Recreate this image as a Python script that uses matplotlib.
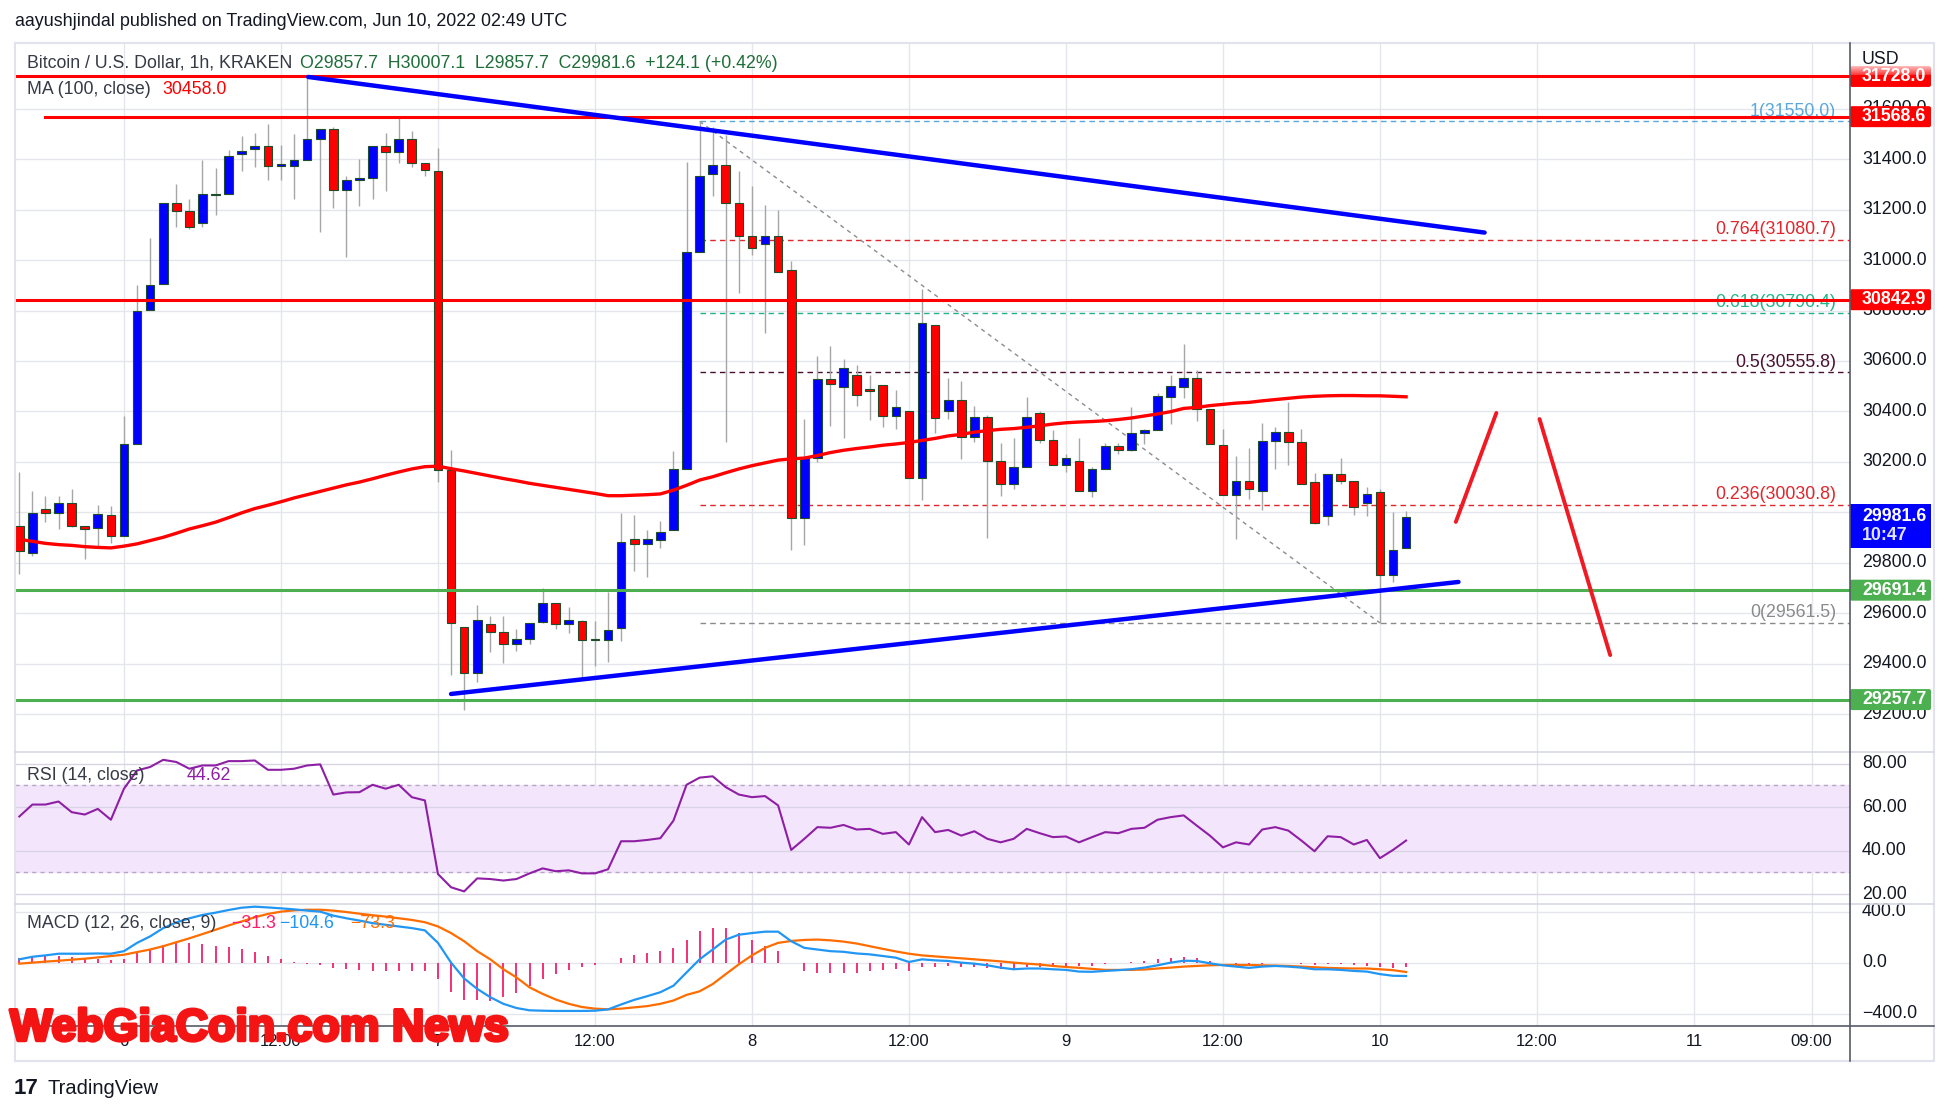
import numpy as np
import pandas as pd
import matplotlib
matplotlib.use("Agg")
import matplotlib.pyplot as plt
import matplotlib.patheffects as pe
from matplotlib.patches import Rectangle, FancyBboxPatch
from matplotlib import font_manager as fm

# Constants
W, H, DPI = 1950, 1115, 100
OUT = "out.png"

RED = "#ff0000"
BLUE = "#0000ff"
GREEN = "#4caf50"
GRID = "#e4e6ec"
TXT = "#131722"

# ---- hourly candles, BTC/USD Kraken, first bar 2022-06-05 16:00 UTC ----
start = "2022-06-05 16:00"

opens = [29946.6, 29839.7, 30014.6, 29998.4, 30037.3, 29946.6, 29938.5, 29990.3, 29906.1, 30272.2,
         30800.4, 30905.7, 31224.8, 31194.0, 31145.3, 31263.7, 31260.5, 31419.2, 31440.3, 31451.6,
         31372.2, 31372.2, 31398.2, 31479.2, 31521.3, 31276.7, 31318.8, 31323.6, 31451.6, 31427.3,
         31479.2, 31383.6, 31351.2, 30168.5, 29544.8, 29363.5, 29557.8, 29525.4, 29476.8, 29496.3,
         29564.3, 29642.0, 29557.8, 29569.1, 29496.3, 29493.0, 29541.6, 29893.1, 29873.7, 29889.9,
         29928.8, 30171.7, 31030.4, 31343.1, 31375.5, 31224.8, 31096.8, 31062.8, 31096.8, 30959.1,
         29977.4, 30215.5, 30529.8, 30497.4, 30546.0, 30487.7, 30503.9, 30382.4, 30403.5, 30136.1,
         30743.6, 30400.2, 30447.2, 30298.2, 30379.2, 30204.2, 30111.8, 30179.8, 30395.4, 30286.8,
         30189.6, 30204.2, 30084.3, 30171.7, 30264.1, 30246.3, 30314.4, 30325.7, 30456.9, 30497.4,
         30533.0, 30408.3, 30265.7, 30068.1, 30124.8, 30084.3, 30282.0, 30319.2, 30278.7, 30119.9,
         29985.5, 30152.3, 30124.8, 30035.7, 30079.5, 29750.6, 29857.7]
highs = [30160.4, 30082.7, 30066.5, 30063.3, 30092.4, 29946.6, 30030.8, 30026.0, 30382.4, 30900.8,
         31088.7, 31224.8, 31302.6, 31241.0, 31396.5, 31364.1, 31437.1, 31492.1, 31505.1, 31540.0,
         31456.5, 31500.2, 31728.0, 31521.3, 31529.4, 31335.0, 31399.8, 31451.6, 31505.1, 31561.8,
         31511.6, 31383.6, 31445.1, 30246.3, 29544.8, 29630.7, 29590.2, 29590.2, 29536.8, 29561.0,
         29698.7, 29642.0, 29625.8, 29574.0, 29569.1, 29682.5, 29998.4, 29990.3, 29930.4, 29966.1,
         30241.4, 31388.4, 31550.0, 31529.4, 31497.0, 31351.2, 31294.5, 31216.7, 31200.5, 30998.0,
         30371.1, 30618.9, 30657.8, 30606.0, 30584.9, 30546.0, 30503.9, 30484.4, 30403.5, 30886.2,
         30743.6, 30533.0, 30520.1, 30422.9, 30384.0, 30273.9, 30296.5, 30455.3, 30403.5, 30325.7,
         30231.7, 30296.5, 30179.8, 30273.9, 30273.9, 30416.4, 30330.6, 30471.5, 30546.0, 30665.9,
         30565.4, 30408.3, 30329.0, 30225.2, 30254.4, 30354.9, 30338.7, 30435.8, 30330.6, 30155.5,
         30152.3, 30217.1, 30124.8, 30098.9, 30092.4, 30003.3, 30007.1]
lows = [29755.4, 29828.3, 29962.8, 29933.6, 29941.8, 29815.4, 29857.5, 29878.6, 29906.1, 30272.2,
        30800.4, 30905.7, 31132.5, 31124.4, 31132.5, 31177.9, 31260.5, 31354.4, 31370.6, 31318.8,
        31318.8, 31242.6, 31398.2, 31113.0, 31205.4, 31014.2, 31213.5, 31242.6, 31275.0, 31386.8,
        31370.6, 31335.0, 30119.9, 29353.8, 29215.0, 29326.3, 29447.7, 29402.3, 29450.9, 29476.8,
        29561.0, 29536.8, 29520.6, 29342.4, 29391.0, 29407.2, 29488.2, 29768.4, 29742.5, 29857.5,
        29928.8, 30171.7, 31030.4, 31254.0, 30277.1, 30870.0, 31019.1, 30711.2, 30954.3, 29852.6,
        29868.8, 30200.9, 30341.9, 30293.3, 30419.6, 30367.9, 30338.7, 30330.6, 30136.1, 30047.0,
        30314.4, 30371.1, 30212.3, 30277.1, 29898.0, 30066.5, 30090.8, 30179.8, 30273.9, 30189.6,
        30160.4, 30084.3, 30060.0, 30171.7, 30231.7, 30241.4, 30269.0, 30325.7, 30350.0, 30452.0,
        30361.4, 30270.6, 30068.1, 29893.1, 30051.9, 30009.7, 30171.7, 30187.9, 30111.8, 29953.1,
        29949.9, 30111.8, 29988.7, 29985.5, 29561.5, 29723.0, 29857.7]
closes = [29847.8, 29998.4, 29998.4, 30037.3, 29946.6, 29932.0, 29993.6, 29906.1, 30272.2, 30797.1,
          30900.8, 31224.8, 31194.0, 31132.5, 31263.7, 31258.8, 31411.1, 31432.2, 31451.6, 31372.2,
          31380.3, 31398.2, 31479.2, 31521.3, 31276.7, 31318.8, 31326.9, 31451.6, 31427.3, 31479.2,
          31386.8, 31356.0, 30168.5, 29561.0, 29363.5, 29572.3, 29525.4, 29476.8, 29496.3, 29561.0,
          29642.0, 29557.8, 29572.3, 29493.0, 29493.0, 29533.5, 29883.4, 29873.7, 29893.1, 29922.3,
          30171.7, 31030.4, 31331.7, 31375.5, 31224.8, 31096.8, 31048.2, 31096.8, 30954.3, 29977.4,
          30220.4, 30529.8, 30508.7, 30573.5, 30465.0, 30481.2, 30382.4, 30416.4, 30136.1, 30751.8,
          30374.3, 30443.9, 30298.2, 30379.2, 30204.2, 30111.8, 30179.8, 30379.2, 30286.8, 30189.6,
          30215.5, 30084.3, 30171.7, 30264.1, 30246.3, 30314.4, 30325.7, 30460.0, 30500.6, 30533.0,
          30408.3, 30270.6, 30068.1, 30124.8, 30092.4, 30282.0, 30319.2, 30278.7, 30111.8, 29958.0,
          30152.3, 30124.8, 30019.5, 30071.4, 29750.6, 29852.6, 29981.6]

# MA(100, close) as shown on the chart
ma100 = [29893, 29885, 29877, 29872, 29869, 29864, 29861, 29859, 29866, 29875,
         29888, 29901, 29917, 29934, 29947, 29961, 29979, 29998, 30015, 30028,
         30042, 30057, 30070, 30083, 30096, 30109, 30120, 30133, 30147, 30160,
         30172, 30181, 30183, 30173, 30164, 30154, 30144, 30134, 30125, 30115,
         30107, 30099, 30091, 30083, 30075, 30066, 30066, 30068, 30070, 30073,
         30088, 30107, 30128, 30141, 30157, 30172, 30185, 30196, 30207, 30212,
         30215, 30225, 30237, 30246, 30253, 30259, 30266, 30271, 30277, 30285,
         30293, 30303, 30309, 30318, 30324, 30329, 30332, 30337, 30343, 30350,
         30355, 30358, 30360, 30363, 30368, 30374, 30382, 30390, 30399, 30412,
         30416, 30423, 30428, 30433, 30436, 30442, 30447, 30452, 30457, 30460,
         30462, 30463, 30463, 30462, 30462, 30460, 30458]

rsi = [55.7, 61.2, 61.2, 62.6, 57.7, 56.6, 59.2, 54.2, 68.5, 76.9,
       78.5, 81.8, 80.8, 77.7, 79.2, 79.2, 81.2, 81.2, 81.5, 77.2,
       77.2, 77.7, 79.2, 79.7, 65.8, 66.8, 66.9, 70.3, 68.5, 70.3,
       64.6, 63.1, 29.2, 23.1, 21.2, 27.2, 26.9, 26.2, 26.9, 29.5,
       31.8, 30.5, 30.9, 29.5, 29.5, 31.4, 44.3, 44.3, 44.9, 45.7,
       53.8, 70.3, 73.6, 74.2, 69.2, 65.8, 64.6, 65.1, 60.8, 40.3,
       45.4, 50.8, 50.5, 51.8, 49.7, 50.0, 47.7, 48.5, 42.8, 55.4,
       48.5, 49.5, 46.9, 48.9, 45.4, 43.8, 45.4, 50.0, 48.0, 46.2,
       46.5, 43.8, 46.2, 48.5, 48.0, 50.0, 50.5, 54.2, 55.4, 56.2,
       51.5, 46.9, 41.5, 43.8, 42.8, 49.7, 50.8, 49.2, 44.6, 39.7,
       46.6, 46.2, 42.8, 44.9, 36.5, 40.3, 44.62]

macd = [26, 46, 57, 70, 70, 70, 72, 70, 90, 155,
        206, 271, 315, 348, 374, 392, 413, 431, 439, 433,
        426, 418, 408, 400, 369, 348, 330, 310, 297, 284,
        271, 253, 155, 0, -124, -206, -271, -323, -356, -374,
        -377, -379, -379, -379, -377, -367, -328, -292, -263, -232,
        -181, -77, 26, 103, 181, 219, 232, 243, 243, 168,
        116, 103, 90, 85, 72, 65, 52, 39, 5, 26,
        18, 13, 0, -8, -21, -39, -52, -46, -46, -52,
        -57, -70, -72, -65, -59, -52, -39, -21, 0, 15,
        13, -5, -21, -31, -41, -31, -26, -31, -39, -52,
        -52, -57, -65, -70, -90, -103, -104.6]
signal = [-8, 0, 8, 15, 23, 31, 41, 52, 62, 83,
          103, 129, 160, 191, 224, 258, 292, 323, 356, 382,
          400, 410, 415, 415, 408, 397, 384, 372, 361, 348,
          335, 317, 284, 232, 168, 90, 26, -52, -116, -194,
          -245, -289, -323, -348, -361, -366, -361, -351, -341, -323,
          -297, -253, -225, -168, -90, -13, 57, 116, 155, 170,
          178, 181, 175, 165, 150, 129, 108, 88, 70, 57,
          49, 41, 34, 26, 18, 10, 0, -8, -15, -26,
          -34, -41, -49, -57, -57, -57, -54, -46, -39, -31,
          -26, -21, -18, -18, -18, -21, -23, -26, -31, -36,
          -41, -44, -46, -46, -52, -59, -73.3]

# horizontal levels drawn on the chart
red_levels = [31728.0, 31568.6, 30842.9]
green_levels = [29691.4, 29257.7]

# fibonacci retracement
fib_high, fib_low = 31550.0, 29561.5
fib_start, fib_end = "2022-06-07 20:00", "2022-06-10 00:00"
fib_ratios = [1, 0.764, 0.618, 0.5, 0.236, 0]
fib_colors = ["#5aa7dc", "#e0262b", "#22b38a", "#4a1030", "#e0262b", "#8a8a8a"]

# drawings: (time, price) pairs
trend_down = [("2022-06-06 14:05", 31726), ("2022-06-10 08:00", 31109)]
trend_up = [("2022-06-07 01:00", 29280), ("2022-06-10 06:00", 29724)]
arrow_up = [("2022-06-10 05:48", 29962), ("2022-06-10 08:54", 30394)]
arrow_down = [("2022-06-10 12:12", 30370), ("2022-06-10 17:36", 29434)]

time_ticks = ["2022-06-06 00:00", "2022-06-06 12:00", "2022-06-07 00:00", "2022-06-07 12:00",
              "2022-06-08 00:00", "2022-06-08 12:00", "2022-06-09 00:00", "2022-06-09 12:00",
              "2022-06-10 00:00", "2022-06-10 12:00", "2022-06-11 00:00", "2022-06-11 09:00"]
time_labels = ["6", "12:00", "7", "12:00", "8", "12:00", "9", "12:00", "10", "12:00", "11", "09:00"]

price_ticks = [29200, 29400, 29600, 29800, 30000, 30200, 30400, 30600, 30800, 31000, 31200, 31400, 31600]
rsi_ticks = [80, 60, 40, 20]
macd_ticks = [400, 0, -400]

# ---- helpers ----
times = pd.date_range(start, periods=len(closes), freq="h")
x = np.arange(len(closes))


def tx(ts):
    return (pd.Timestamp(ts) - times[0]) / pd.Timedelta(hours=1)


def px_rect(x0, y0, x1, y1):
    return [x0 / W, 1 - y1 / H, (x1 - x0) / W, (y1 - y0) / H]


plt.rcParams["font.family"] = ["Liberation Sans", "DejaVu Sans"]
FS = 12.8

fig = plt.figure(figsize=(W / DPI, H / DPI), dpi=DPI)
fig.patch.set_facecolor("white")

L, R, AR = 15, 1850, 1934
P_T, P_B = 43, 752
R_T, R_B = 752, 904
M_T, M_B = 904, 1026
T_B = 1061

XLIM = (-0.33, 139.93)
PLIM = (29049.9, 31860.6)
RLIM = (15.4, 85.4)
MLIM = (-497, 460)

ax_p = fig.add_axes(px_rect(L, P_T, R, P_B))
ax_r = fig.add_axes(px_rect(L, R_T, R, R_B))
ax_m = fig.add_axes(px_rect(L, M_T, R, M_B))
ax_t = fig.add_axes(px_rect(L, M_B, R, T_B))
sc_p = fig.add_axes(px_rect(R, P_T, AR, P_B))
sc_r = fig.add_axes(px_rect(R, R_T, AR, R_B))
sc_m = fig.add_axes(px_rect(R, M_T, AR, M_B))

for a, yl in [(ax_p, PLIM), (ax_r, RLIM), (ax_m, MLIM), (ax_t, (0, 1))]:
    a.set_xlim(*XLIM)
    a.set_ylim(*yl)
    a.set_xticks([])
    a.set_yticks([])
    for s in a.spines.values():
        s.set_visible(False)
    if a is not ax_t:
        for t in time_ticks:
            a.axvline(tx(t), color=GRID, lw=1, zorder=0)

for a, yl in [(sc_p, PLIM), (sc_r, RLIM), (sc_m, MLIM)]:
    a.set_xlim(0, AR - R)
    a.set_ylim(*yl)
    a.axis("off")

for p in price_ticks:
    ax_p.axhline(p, color=GRID, lw=1, zorder=0)

# ---- price pane ----
o, hi, lo, c = map(np.array, (opens, highs, lows, closes))
up = c >= o
ax_p.vlines(x, lo, hi, color="#a6a6a6", lw=1, zorder=3)
ax_p.bar(x, np.maximum(np.abs(c - o), 3), bottom=np.minimum(o, c), width=0.66,
         color=np.where(up, BLUE, RED), edgecolor="#1f4d2a", linewidth=0.8, zorder=4)

ax_p.plot(x, ma100, color=RED, lw=2.4, zorder=5)

# fib levels
f0, f1 = tx(fib_start), tx(fib_end)
for r, col in zip(fib_ratios, fib_colors):
    lvl = fib_low + r * (fib_high - fib_low)
    ax_p.plot([f0, XLIM[1]], [lvl, lvl], color=col, lw=1, ls=(0, (4, 3)), zorder=2)
    lab = f"{r:g}({lvl:.1f})"
    ax_p.annotate(lab, xy=(0.9924, lvl), xycoords=ax_p.get_yaxis_transform(),
                  xytext=(0, 10), textcoords="offset pixels", ha="right", va="center",
                  fontsize=FS, color=col, zorder=2)
ax_p.plot([f0, f1], [fib_high, fib_low], color="#8c8c8c", lw=1, ls=(0, (3, 3)), zorder=2)

# horizontal support / resistance
ax_p.plot([XLIM[0], XLIM[1]], [red_levels[0]] * 2, color=RED, lw=2.2, zorder=6)
ax_p.plot([2.0, XLIM[1]], [red_levels[1]] * 2, color=RED, lw=2.2, zorder=6)
ax_p.axhline(red_levels[2], color=RED, lw=2.2, zorder=6)
for g in green_levels:
    ax_p.axhline(g, color=GREEN, lw=2.2, zorder=6)

# trend lines and projected path
for seg, col, lw in [(trend_down, BLUE, 3.2), (trend_up, BLUE, 3.2),
                     (arrow_up, "#f01a24", 2.8), (arrow_down, "#f01a24", 2.8)]:
    ax_p.plot([tx(seg[0][0]), tx(seg[1][0])], [seg[0][1], seg[1][1]],
              color=col, lw=lw, solid_capstyle="round", zorder=7)

# ---- RSI pane ----
ax_r.axhspan(30, 70, color="#f3e6fc", zorder=0)
for v in rsi_ticks:
    ax_r.axhline(v, color="#d9d3e3", lw=1, zorder=1)
for v in (70, 30):
    ax_r.axhline(v, color="#b7a6c2", lw=1, ls=(0, (3, 3)), zorder=1)
ax_r.plot(x, rsi, color="#8e1fa4", lw=1.5, zorder=3)

# ---- MACD pane ----
for v in macd_ticks:
    ax_m.axhline(v, color=GRID, lw=1, zorder=0)
hist = np.array(macd) - np.array(signal)
ax_m.vlines(x, 0, hist, color="#f5206c", lw=1.3, zorder=2)
ax_m.plot(x, signal, color="#ff6d00", lw=1.6, zorder=3)
ax_m.plot(x, macd, color="#2196f3", lw=1.6, zorder=4)

# ---- time axis ----
for t, lab in zip(time_ticks, time_labels):
    ax_t.text(tx(t), 0.55, lab, ha="center", va="center", fontsize=12, color=TXT)

# ---- price scale ----
for p in price_ticks:
    sc_p.text(12, p, f"{p:.1f}", va="center", fontsize=FS, color=TXT)

px_per = (P_B - P_T) / (PLIM[1] - PLIM[0])
bh = 21 / px_per


def tag(ax, y, label, col, h=bh):
    ax.add_patch(FancyBboxPatch((0, y - h / 2), 81, h, boxstyle="round,pad=0,rounding_size=2",
                                mutation_aspect=1 / px_per, fc=col, ec="none", zorder=5))
    ax.text(12, y, label, va="center", fontsize=FS, color="white", fontweight="bold", zorder=6)


tag(sc_p, red_levels[0], "31728.0", RED)
tag(sc_p, red_levels[1], "31568.6", RED)
tag(sc_p, red_levels[2], "30842.9", RED)
tag(sc_p, green_levels[0], "29691.4", GREEN)
tag(sc_p, green_levels[1], "29257.7", GREEN)
# last price + countdown
last = closes[-1]
top = last + 13 / px_per
sc_p.add_patch(Rectangle((0, top - 44 / px_per), 81, 44 / px_per, fc=BLUE, ec="none", zorder=5))
sc_p.text(12, last, f"{last:.1f}", va="center", fontsize=FS, color="white", fontweight="bold", zorder=6)
sc_p.text(12, last - 19 / px_per, "10:47", va="center", fontsize=FS, color="#dfe3ff", fontweight="bold", zorder=6)
# faded top of the 31728 tag (gradient) + currency
for k in range(12):
    sc_p.add_patch(Rectangle((0, red_levels[0] + (12 - k) / px_per), 84, 1.2 / px_per,
                             fc="white", ec="none", alpha=0.9 - 0.06 * k, zorder=7))
sc_p.add_patch(Rectangle((0, red_levels[0] + 12 / px_per), 84, 60 / px_per, fc="white", ec="none", zorder=7))
sc_p.text(12, PLIM[1] - 17 / px_per, "USD", va="center", fontsize=FS, color=TXT, zorder=8)

for v in rsi_ticks:
    sc_r.text(12, v, f"{v:.2f}", va="center", fontsize=FS, color=TXT)
for v in macd_ticks:
    sc_m.text(12, v, f"{v:.1f}".replace("-", "\u2212"), va="center", fontsize=FS, color=TXT)

# ---- overlay: frame, separators, legends, watermark ----
ov = fig.add_axes([0, 0, 1, 1], zorder=10)
ov.set_xlim(0, W)
ov.set_ylim(H, 0)
ov.axis("off")
ov.patch.set_alpha(0)

ov.add_patch(Rectangle((L, P_T), AR - L, T_B - P_T, fill=False, ec="#e0e3eb", lw=1.5))
for yy in (R_T, R_B):
    ov.plot([L, AR], [yy, yy], color="#d6d9e0", lw=1.2)
ov.plot([L, AR], [M_B, M_B], color="#555b66", lw=1.2)
ov.plot([R, R], [P_T, T_B], color="#555b66", lw=1.2)

ov.text(15, 22, "aayushjindal published on TradingView.com, Jun 10, 2022 02:49 UTC",
        fontsize=12.9, color=TXT, va="center")
ov.text(27, 63, "Bitcoin / U.S. Dollar, 1h, KRAKEN", fontsize=FS, color="#363a45", va="center")
ov.text(300, 63, "O29857.7  H30007.1  L29857.7  C29981.6  +124.1 (+0.42%)",
        fontsize=FS, color="#1f6e3a", va="center")
ov.text(27, 90, "MA (100, close)", fontsize=FS, color="#363a45", va="center")
ov.text(162, 90, "30458.0", fontsize=FS, color=RED, va="center")
ov.text(27, 775, "RSI (14, close)", fontsize=FS, color="#363a45", va="center")
ov.text(187, 775, "44.62", fontsize=FS, color="#8e1fa4", va="center")
ov.text(27, 924, "MACD (12, 26, close, 9)", fontsize=FS, color="#363a45", va="center")
ov.text(231, 924, "\u221231.3", fontsize=FS, color="#ff1a6a", va="center")
ov.text(279, 924, "\u2212104.6", fontsize=FS, color="#2196f3", va="center")
ov.text(350, 924, "\u221273.3", fontsize=FS, color="#ff6d00", va="center")

# TradingView footer
ov.text(14, 1089, "17", fontsize=16, fontweight="bold", color=TXT, va="center")
ov.text(48, 1089, "TradingView", fontsize=14.5, color=TXT, va="center")

# watermark
names = {f.name for f in fm.fontManager.ttflist}
wm_family = "Liberation Sans Narrow" if "Liberation Sans Narrow" in names else "Liberation Sans"
wm = ov.text(10, 1029, "WebGiaCoin.com News", fontsize=40, fontweight="bold",
             family=[wm_family, "DejaVu Sans"], color="#f41414", va="center", zorder=20,
             path_effects=[pe.withStroke(linewidth=2.5, foreground="#f41414")])
fig.canvas.draw()
bb = wm.get_window_extent()
wm.set_fontsize(40 * 498 / bb.width)

fig.savefig(OUT, dpi=DPI, facecolor="white")
